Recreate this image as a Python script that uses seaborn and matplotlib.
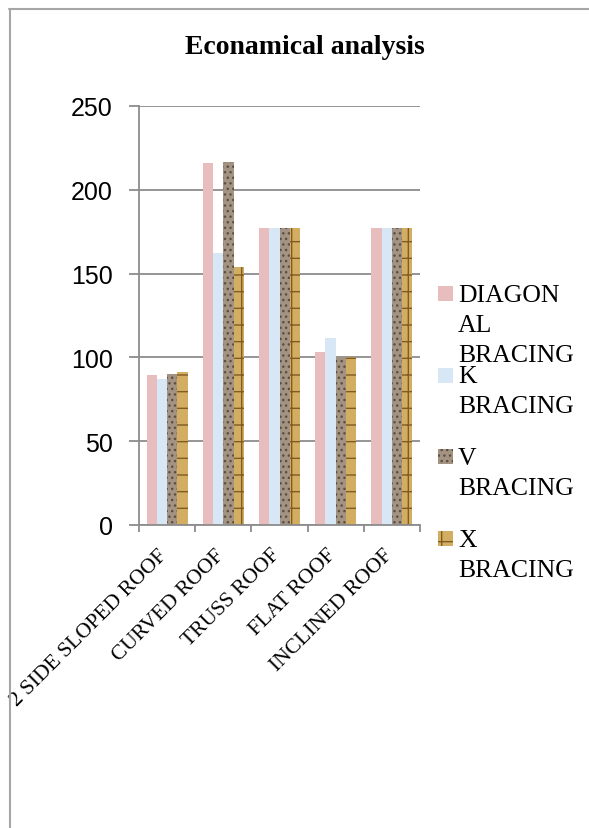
import numpy as np
import pandas as pd
import matplotlib
matplotlib.use("Agg")
import matplotlib.pyplot as plt
import seaborn as sns
from matplotlib.lines import Line2D
from matplotlib.patches import Rectangle
from matplotlib.transforms import ScaledTranslation

# ---- data ----
roofs = ["2 SIDE SLOPED ROOF", "CURVED ROOF", "TRUSS ROOF", "FLAT ROOF", "INCLINED ROOF"]
series = ["DIAGONAL BRACING", "K BRACING", "V BRACING", "X BRACING"]
legend_labels = ["DIAGON\nAL\nBRACING", "K\nBRACING", "V\nBRACING", "X\nBRACING"]
diagonal = [89.5, 216, 177, 103.5, 177]
k_bracing = [87, 162.5, 177, 111.5, 177]
v_bracing = [90, 216.5, 177, 100, 177]
x_bracing = [91, 154, 177, 100, 177]
y_ticks = [0, 50, 100, 150, 200, 250]
title = "Econamical analysis"

values = [diagonal, k_bracing, v_bracing, x_bracing]
df = pd.DataFrame({
    "roof": [r for s in series for r in roofs],
    "bracing": [s for s in series for r in roofs],
    "value": [v for vals in values for v in vals],
})

# ---- style ----
colors = ["#E8BDBE", "#D8E7F6", "#A39383", "#D3AE62"]
hatch_colors = ["#E8BDBE", "#D8E7F6", "#5E4E40", "#7E5C22"]
hatches = ["", "", "...", "+"]

sns.set_style("white")
plt.rcParams["text.color"] = "black"
plt.rcParams["xtick.color"] = "black"
plt.rcParams["ytick.color"] = "black"
serif = ["Liberation Serif", "DejaVu Serif"]
sans = ["Liberation Sans", "DejaVu Sans"]
plt.rcParams["hatch.linewidth"] = 1.0

W, H = 589, 829
fig = plt.figure(figsize=(W / 100, H / 100), dpi=100)
ax = fig.add_axes([139 / W, 1 - 526 / H, (420 - 139) / W, (526 - 107) / H])

sns.barplot(data=df, x="roof", y="value", hue="bracing", order=roofs,
            hue_order=series, palette=colors, width=0.73, gap=0,
            dodge=True, legend=False, linewidth=0, saturation=1, ax=ax)

for cont, hc, h in zip(ax.containers, hatch_colors, hatches):
    for p in cont:
        p.set_hatch(h)
        p.set_edgecolor(hc)
        p.set_linewidth(0)

grid_c = "#8C8C8C"
ax.set_ylim(0, 250)
ax.set_xlim(-0.5, len(roofs) - 0.5)
ax.set_yticks(y_ticks)
ax.set_yticklabels([str(t) for t in y_ticks], fontfamily=sans, fontsize=18, color="black")
ax.yaxis.grid(True, color=grid_c, linewidth=1.3)
ax.set_axisbelow(True)
ax.set_xlabel("")
ax.set_ylabel("")

for s in ["top", "right"]:
    ax.spines[s].set_visible(False)
for s in ["left", "bottom"]:
    ax.spines[s].set_color(grid_c)
    ax.spines[s].set_linewidth(1.3)

ax.tick_params(axis="y", length=7, width=1.3, color=grid_c, pad=12, direction="out", left=True,
               labelcolor="black")
ax.set_xticks(np.arange(len(roofs)))
ax.tick_params(axis="x", which="major", length=0, pad=8, labelcolor="black")
ax.set_xticks(np.arange(-0.5, len(roofs)), minor=True)
ax.tick_params(axis="x", which="minor", length=5, width=1.3, color=grid_c, direction="out", bottom=True)
ax.set_xticklabels(roofs, rotation=45, ha="right", rotation_mode="anchor",
                   fontfamily=serif, fontsize=15.5, color="black")
shift = ScaledTranslation(-9 / 100, -9 / 100, fig.dpi_scale_trans)
for lbl in ax.get_xticklabels():
    lbl.set_transform(lbl.get_transform() + shift)

# title
fig.text(305 / W, 1 - 47 / H, title, ha="center", va="center", color="black",
         fontfamily=serif, fontsize=20, fontweight="bold")

# legend (manual, one text per line)
first_baselines = [302, 383.5, 465, 547]
line_px = 30
for lab, c, hc, h, yb in zip(legend_labels, colors, hatch_colors, hatches, first_baselines):
    fig.patches.append(Rectangle((438 / W, 1 - yb / H), 15 / W, 15 / H,
                                 transform=fig.transFigure, facecolor=c,
                                 edgecolor=hc, hatch=h, linewidth=0))
    for i, line in enumerate(lab.split("\n")):
        fig.text(458 / W, 1 - (yb + i * line_px) / H, line, ha="left", va="baseline",
                 color="black", fontfamily=serif, fontsize=18.5)

# outer frame (top and left edges)
frame_c = "#A6A6A6"
fig.add_artist(Line2D([9 / W, 1], [1 - 9.5 / H, 1 - 9.5 / H], transform=fig.transFigure,
                      color=frame_c, linewidth=1.5))
fig.add_artist(Line2D([9.5 / W, 9.5 / W], [0, 1 - 9.5 / H], transform=fig.transFigure,
                      color=frame_c, linewidth=1.5))

fig.savefig("out.png", dpi=100, facecolor="white")
